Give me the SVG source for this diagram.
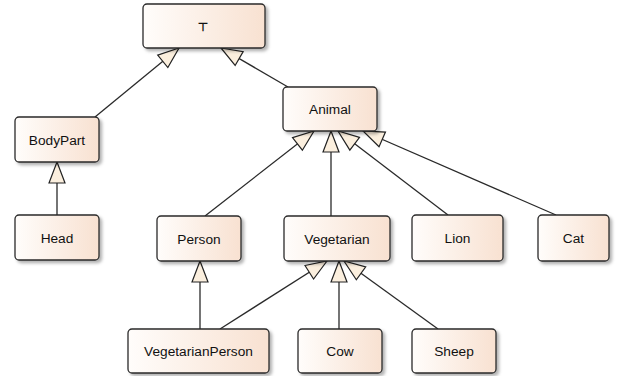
<svg xmlns="http://www.w3.org/2000/svg" width="618" height="376" viewBox="0 0 618 376">
<defs>
<linearGradient id="fill" x1="0" y1="0" x2="1" y2="0">
<stop offset="0" stop-color="#fffdfb"/>
<stop offset="1" stop-color="#f8e1d1"/>
</linearGradient>
<filter id="sh" x="-10%" y="-10%" width="130%" height="140%">
<feDropShadow dx="2.5" dy="2.5" stdDeviation="1.5" flood-color="#000" flood-opacity="0.3"/>
</filter>
<marker id="gen" markerUnits="userSpaceOnUse" markerWidth="26" markerHeight="22" viewBox="0 0 26 22" refX="23" refY="11" orient="auto">
<path d="M2,3 L23,11 L2,19 z" fill="#fbefde" stroke="#222" stroke-width="1.2" stroke-linejoin="miter"/>
</marker>
<style>
.box rect{fill:url(#fill);stroke:#2a2a2a;stroke-width:1.3;filter:url(#sh)}
.box text{font-family:"Liberation Sans",Arial,sans-serif;font-size:13.7px;fill:#111;text-anchor:middle}
.edges line{stroke:#2a2a2a;stroke-width:1.3;marker-end:url(#gen)}
</style>
</defs>
<rect width="618" height="376" fill="#fff"/>
<g class="edges" id="connectors">
<line x1="95" y1="117" x2="179" y2="48"/>
<line x1="288" y1="87" x2="221" y2="48"/>
<line x1="57" y1="215" x2="57" y2="162"/>
<line x1="205" y1="216" x2="314" y2="131"/>
<line x1="331" y1="216" x2="331" y2="131"/>
<line x1="448" y1="215" x2="338" y2="131"/>
<line x1="556" y1="215" x2="363" y2="131"/>
<line x1="200" y1="329" x2="200" y2="261"/>
<line x1="220" y1="329" x2="327" y2="261"/>
<line x1="339" y1="329" x2="339" y2="261"/>
<line x1="438" y1="329" x2="344" y2="261"/>
</g>
<g class="box" id="top"><rect x="143" y="4" width="122" height="44" rx="4"/><text x="203" y="31" style="font-family:'DejaVu Sans',sans-serif;font-size:12px;font-weight:bold">⊤</text></g>
<g class="box" id="bodypart"><rect x="15" y="117" width="84" height="45" rx="4"/><text x="57" y="144.5">BodyPart</text></g>
<g class="box" id="head"><rect x="15" y="215" width="84" height="45" rx="4"/><text x="57" y="242.5">Head</text></g>
<g class="box" id="animal"><rect x="283" y="87" width="94" height="44" rx="4"/><text x="330" y="114">Animal</text></g>
<g class="box" id="person"><rect x="157" y="216" width="84" height="45" rx="4"/><text x="199" y="243.5">Person</text></g>
<g class="box" id="vegetarian"><rect x="284" y="216" width="106" height="45" rx="4"/><text x="337" y="243.5">Vegetarian</text></g>
<g class="box" id="lion"><rect x="412" y="215" width="91" height="46" rx="4"/><text x="457.5" y="243">Lion</text></g>
<g class="box" id="cat"><rect x="538" y="215" width="71" height="46" rx="4"/><text x="573.5" y="243">Cat</text></g>
<g class="box" id="vegetarianperson"><rect x="128" y="329" width="141" height="44" rx="4"/><text x="198.5" y="356">VegetarianPerson</text></g>
<g class="box" id="cow"><rect x="298" y="329" width="84" height="44" rx="4"/><text x="340" y="356">Cow</text></g>
<g class="box" id="sheep"><rect x="412" y="329" width="84" height="44" rx="4"/><text x="454" y="356">Sheep</text></g>
</svg>
